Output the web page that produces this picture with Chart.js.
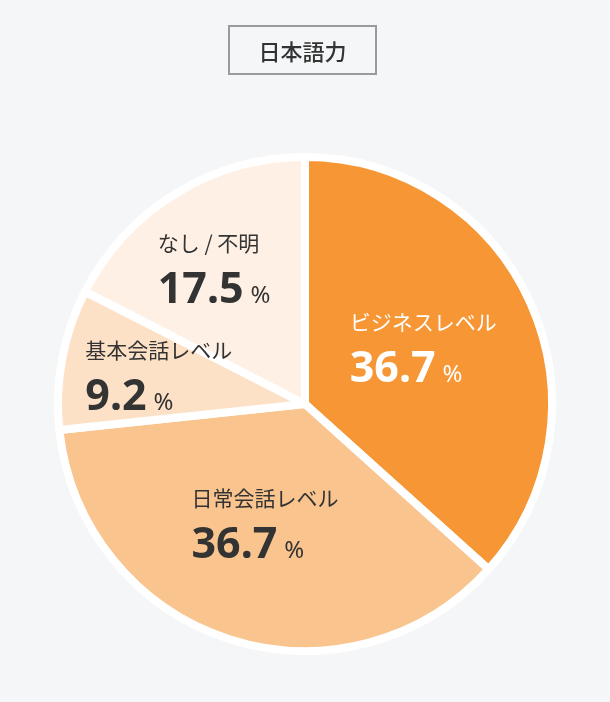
<!DOCTYPE html>
<html>
<head>
<meta charset="utf-8">
<script src="https://cdn.jsdelivr.net/npm/chart.js@4"></script>
<style>
  body { margin: 0; background: #f5f6f8; }
  #wrap { position: relative; width: 610px; height: 702px; }
  #ttl {
    position: absolute; left: 228px; top: 25px; width: 145px; height: 46px;
    border: 2.5px solid #9a9a9a; box-sizing: content-box;
    font: 500 22px "Noto Sans CJK JP", sans-serif; color: #333;
    display: flex; align-items: center; justify-content: center;
  }
</style>
</head>
<body>
<div id="wrap">
  <div id="ttl">日本語力</div>
  <canvas id="myChart" width="610" height="702"></canvas>
</div>
<script>
var labels = ['ビジネスレベル', '日常会話レベル', '基本会話レベル', 'なし / 不明'];
var values = [36.7, 36.7, 9.2, 17.5];
var colors = ['#f79634', '#fac48e', '#fde1c6', '#fef0e4'];
var textColors = ['#ffffff', '#333333', '#333333', '#333333'];
// where each text block sits: share of the radius, and a small turn in degrees
var labelDist = [0.524, 0.525, 0.60, 0.65];
var labelTurn = [0, 0, -1, -3];

var sliceLabels = {
  id: 'sliceLabels',
  afterDatasetsDraw: function (chart) {
    var ctx = chart.ctx;
    var arcs = chart.getDatasetMeta(0).data;
    arcs.forEach(function (arc, i) {
      var mid = (arc.startAngle + arc.endAngle) / 2 + labelTurn[i] * Math.PI / 180;
      var d = arc.outerRadius * labelDist[i];
      var cx = arc.x + Math.cos(mid) * d;
      var cy = arc.y + Math.sin(mid) * d;

      ctx.save();
      ctx.fillStyle = textColors[i];
      ctx.font = '21px "Noto Sans CJK JP"';
      var lw = ctx.measureText(labels[i]).width;
      var num = values[i].toFixed(1);
      ctx.font = 'bold 43px "Noto Sans"';
      var nw = ctx.measureText(num).width;
      ctx.font = '24px "Noto Sans"';
      var pw = ctx.measureText('%').width;
      var w = Math.max(lw, nw + 7 + pw);
      var left = cx - w / 2;

      ctx.textAlign = 'left';
      ctx.textBaseline = 'middle';
      ctx.font = '21px "Noto Sans CJK JP"';
      ctx.fillText(labels[i], left, cy - 29);

      ctx.textBaseline = 'alphabetic';
      ctx.font = 'bold 43px "Noto Sans"';
      ctx.fillText(num, left, cy + 31);
      ctx.font = '24px "Noto Sans"';
      ctx.fillText('%', left + nw + 7, cy + 31);
      ctx.restore();
    });
  }
};

var ctx = document.getElementById('myChart').getContext('2d');
var myChart = new Chart(ctx, {
  type: 'pie',
  data: {
    labels: labels,
    datasets: [{
      data: values,
      backgroundColor: colors,
      borderColor: '#ffffff',
      borderWidth: 8
    }]
  },
  options: {
    responsive: false,
    maintainAspectRatio: false,
    animation: false,
    radius: 247,
    layout: { padding: { top: 140, bottom: 34 } },
    plugins: {
      legend: { display: false },
      tooltip: { enabled: false }
    }
  },
  plugins: [sliceLabels]
});
</script>
</body>
</html>
